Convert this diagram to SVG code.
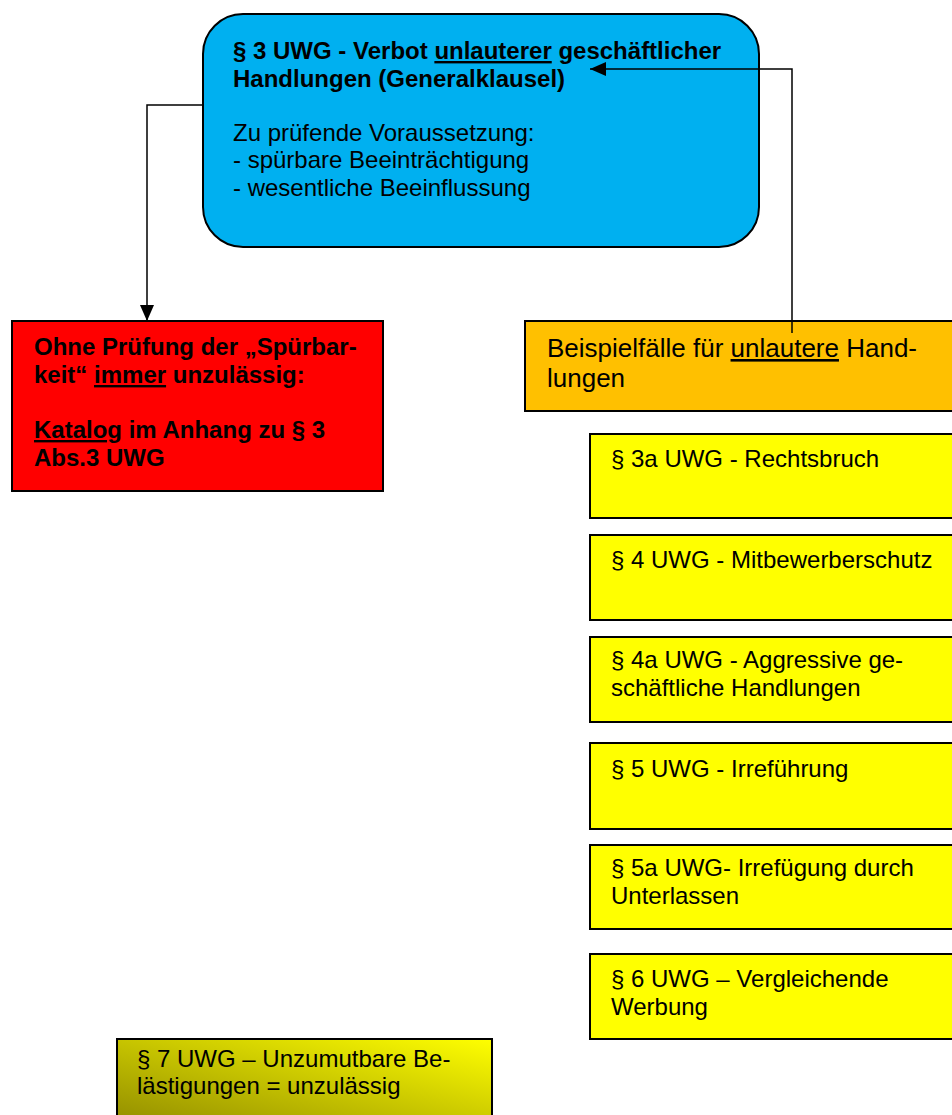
<svg xmlns="http://www.w3.org/2000/svg" width="952" height="1115" viewBox="0 0 952 1115">
<style>
text { font-family: "Liberation Sans", Arial, Helvetica, sans-serif; fill: #000; }
.b { font-weight: bold; font-size: 24px; }
.n { font-size: 24px; }
.o { font-size: 26px; }
.box { stroke: #000; stroke-width: 2; }
.u { text-decoration: underline; }
.conn { fill: none; stroke: #000; stroke-width: 1.5; }
</style>
<defs>
<marker id="arr" markerUnits="userSpaceOnUse" markerWidth="16" markerHeight="14" refX="16" refY="7" orient="auto">
<path d="M0,0 L16,7 L0,14 Z" fill="#000"/>
</marker>
<linearGradient id="g7" x1="0" y1="1" x2="1" y2="0">
<stop offset="0" stop-color="#8F8A00"/>
<stop offset="1" stop-color="#FFFF00"/>
</linearGradient>
</defs>

<g id="generalklausel">
<rect class="box" x="203" y="14" width="556" height="233" rx="40" ry="40" fill="#00B0F0"/>
<text class="b" x="233" y="59">§ 3 UWG - Verbot <tspan class="u">unlauterer</tspan> geschäftlicher</text>
<text class="b" x="233" y="87">Handlungen (Generalklausel)</text>
<text class="n" x="233" y="141">Zu prüfende Voraussetzung:</text>
<text class="n" x="233" y="168">- spürbare Beeinträchtigung</text>
<text class="n" x="233" y="196">- wesentliche Beeinflussung</text>
</g>

<g id="katalog">
<rect class="box" x="12" y="321" width="371" height="170" fill="#FF0000"/>
<text class="b" x="34" y="355">Ohne Prüfung der „Spürbar-</text>
<text class="b" x="34" y="383">keit“ <tspan class="u">immer</tspan> unzulässig:</text>
<text class="b" x="34" y="438"><tspan class="u">Katalog</tspan> im Anhang zu § 3</text>
<text class="b" x="34" y="466">Abs.3 UWG</text>
</g>

<g id="beispielfaelle">
<rect class="box" x="525" y="321" width="440" height="90" fill="#FFC000"/>
<text class="o" x="547" y="357">Beispielfälle für <tspan class="u">unlautere</tspan> Hand-</text>
<text class="o" x="547" y="387">lungen</text>
</g>

<g id="p3a">
<rect class="box" x="590" y="434" width="380" height="84" fill="#FFFF00"/>
<text class="n" x="611" y="467">§ 3a UWG - Rechtsbruch</text>
</g>
<g id="p4">
<rect class="box" x="590" y="535" width="380" height="85" fill="#FFFF00"/>
<text class="n" x="611" y="568">§ 4 UWG - Mitbewerberschutz</text>
</g>
<g id="p4a">
<rect class="box" x="590" y="637" width="380" height="85" fill="#FFFF00"/>
<text class="n" x="611" y="668">§ 4a UWG - Aggressive ge-</text>
<text class="n" x="611" y="696">schäftliche Handlungen</text>
</g>
<g id="p5">
<rect class="box" x="590" y="743" width="380" height="86" fill="#FFFF00"/>
<text class="n" x="611" y="777">§ 5 UWG - Irreführung</text>
</g>
<g id="p5a">
<rect class="box" x="590" y="845" width="380" height="84" fill="#FFFF00"/>
<text class="n" x="611" y="876">§ 5a UWG- Irrefügung durch</text>
<text class="n" x="611" y="904">Unterlassen</text>
</g>
<g id="p6">
<rect class="box" x="590" y="954" width="380" height="85" fill="#FFFF00"/>
<text class="n" x="611" y="987">§ 6 UWG – Vergleichende</text>
<text class="n" x="611" y="1015">Werbung</text>
</g>

<g id="p7">
<rect class="box" x="117" y="1039" width="375" height="90" fill="url(#g7)"/>
<text class="n" x="137" y="1067">§ 7 UWG – Unzumutbare Be-</text>
<text class="n" x="137" y="1094">lästigungen = unzulässig</text>
</g>

<g id="connectors">
<path class="conn" d="M203,105 H147 V321" marker-end="url(#arr)"/>
<path class="conn" d="M792,333 V69 H590" marker-end="url(#arr)"/>
</g>
</svg>
